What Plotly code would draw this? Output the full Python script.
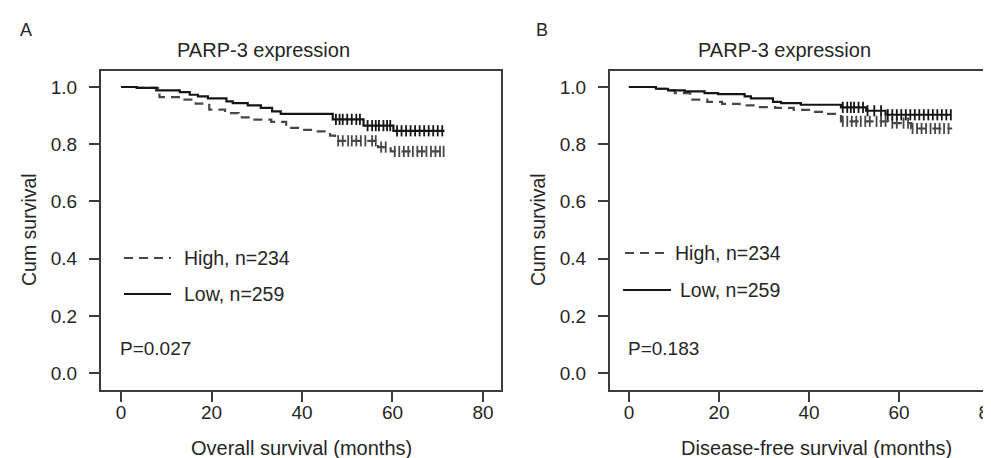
import plotly.graph_objects as go

W, H = 991, 458

# ---------------- data ----------------
# Panel A: overall survival
os_low_t = [0, 3.5, 7.8, 13, 15.2, 17, 19.2, 23.3, 24.7, 28, 30.9, 33.4, 35.3, 46.8, 53.6, 60.2, 71.5]
os_low_s = [1.0, 0.997, 0.988, 0.982, 0.973, 0.967, 0.96, 0.95, 0.944, 0.936, 0.927, 0.915, 0.906, 0.887, 0.865, 0.847, 0.847]
os_high_t = [0, 3.5, 8.5, 13.4, 16.5, 19.5, 23, 26, 29.5, 33.2, 36.5, 39.5, 43.5, 46.2, 47.3, 56.8, 59.6, 71.5]
os_high_s = [1.0, 0.997, 0.965, 0.956, 0.942, 0.921, 0.909, 0.894, 0.886, 0.878, 0.857, 0.85, 0.845, 0.83, 0.812, 0.79, 0.775, 0.775]
os_low_cens = [47.5, 48.3, 49, 50, 51, 52, 52.8, 54.5, 55.5, 56.3, 57, 58, 58.8, 59.5, 61, 62, 63, 64, 65, 66, 67, 68, 69, 70, 71]
os_high_cens = [48, 49, 50.2, 51, 52, 53, 54, 55.5, 56.3, 57.5, 58.5, 60.5, 61.5, 62.5, 63.5, 64.5, 65.5, 66.5, 67.5, 68.5, 69.5, 70.5, 71.3]

# Panel B: disease-free survival
dfs_low_t = [0, 6, 8.7, 12.4, 16.8, 19.8, 25.7, 27.1, 32, 33.8, 38.2, 47.1, 52.7, 57, 71.6]
dfs_low_s = [1.0, 0.994, 0.988, 0.985, 0.979, 0.975, 0.967, 0.96, 0.948, 0.944, 0.938, 0.929, 0.917, 0.903, 0.903]
dfs_high_t = [0, 6, 8.7, 10.2, 13.6, 17.4, 20.7, 24.6, 28.8, 32.5, 36.6, 40.7, 44, 47.1, 57.6, 62.7, 71.8]
dfs_high_s = [1.0, 0.994, 0.988, 0.979, 0.956, 0.948, 0.941, 0.936, 0.93, 0.927, 0.92, 0.913, 0.906, 0.88, 0.874, 0.855, 0.855]
dfs_low_cens = [47.5, 48.5, 49.3, 50, 51, 52, 53, 54.5, 56, 57.5, 58.5, 59.5, 60.5, 61.5, 62.5, 63.5, 64.5, 65.5, 66.5, 67.5, 68.5, 69.5, 70.5, 71.5]
dfs_high_cens = [47.5, 48.5, 49.5, 50.5, 51.5, 52.5, 53.5, 55, 56, 57, 58.5, 59.5, 61, 62, 63, 64, 65, 66, 67, 68, 69, 70, 71]

x_ticks = [0, 20, 40, 60, 80]
y_ticks = [0.0, 0.2, 0.4, 0.6, 0.8, 1.0]
group_labels = ["High, n=234", "Low, n=259"]
p_values = ["P=0.027", "P=0.183"]
x_titles = ["Overall survival (months)", "Disease-free survival (months)"]
panel_letters = ["A", "B"]
title_text = "PARP-3 expression"

FONT = "Liberation Sans, Arial, sans-serif"
TXT = "#262626"
AX = "#3c3c3c"
SOLID_C = "#151515"
DASH_C = "#474747"


def step_value(ts, ss, t):
    v = ss[0]
    for ti, si in zip(ts, ss):
        if ti <= t:
            v = si
    return v


fig = go.Figure()


def add_panel(xa, ya, lt, ls, ht, hs, lc, hc):
    fig.add_trace(go.Scatter(x=ht, y=hs, mode="lines", line=dict(color=DASH_C, width=2.2, dash="9px,6px", shape="hv"),
                             xaxis=xa, yaxis=ya, showlegend=False, hoverinfo="skip"))
    fig.add_trace(go.Scatter(x=lt, y=ls, mode="lines", line=dict(color=SOLID_C, width=2.2, shape="hv"),
                             xaxis=xa, yaxis=ya, showlegend=False, hoverinfo="skip"))
    fig.add_trace(go.Scatter(x=hc, y=[step_value(ht, hs, t) for t in hc], mode="markers",
                             marker=dict(symbol="line-ns-open", size=8, color=DASH_C,
                                         line=dict(color=DASH_C, width=1.8)),
                             xaxis=xa, yaxis=ya, showlegend=False, hoverinfo="skip"))
    fig.add_trace(go.Scatter(x=lc, y=[step_value(lt, ls, t) for t in lc], mode="markers",
                             marker=dict(symbol="line-ns-open", size=8, color=SOLID_C,
                                         line=dict(color=SOLID_C, width=1.8)),
                             xaxis=xa, yaxis=ya, showlegend=False, hoverinfo="skip"))


add_panel("x", "y", os_low_t, os_low_s, os_high_t, os_high_s, os_low_cens, os_high_cens)
add_panel("x2", "y2", dfs_low_t, dfs_low_s, dfs_high_t, dfs_high_s, dfs_low_cens, dfs_high_cens)

ydom = [1 - 382 / H, 1 - 63 / H]
common_x = dict(tickvals=x_ticks, ticks="outside", ticklen=10, tickwidth=2, tickcolor=AX,
                showline=True, linewidth=2, linecolor=AX, showgrid=False, zeroline=False,
                tickfont=dict(family=FONT, size=19, color=TXT), ticklabelstandoff=-6,
                ticklabeloverflow="allow", fixedrange=True)
common_y = dict(tickvals=y_ticks, tickformat=".1f", ticks="outside", ticklen=10, tickwidth=2, tickcolor=AX,
                showline=True, linewidth=2, linecolor=AX, showgrid=False, zeroline=False,
                tickfont=dict(family=FONT, size=19, color=TXT), ticklabelstandoff=8,
                range=[-0.059, 1.056], domain=ydom, fixedrange=True)

fig.update_layout(
    width=W, height=H, margin=dict(l=0, r=0, t=0, b=0),
    paper_bgcolor="white", plot_bgcolor="white",
    xaxis=dict(domain=[93 / W, 493 / W], range=[-4.42, 83.98], anchor="y", mirror=True, **common_x),
    yaxis=dict(anchor="x", mirror=True, **common_y),
    xaxis2=dict(domain=[602 / W, 1.0], range=[-4.2, 82.2], anchor="y2", mirror=True, **common_x),
    yaxis2=dict(anchor="x2", mirror=False, **common_y),
)


def ann(text, px, py, size=19, xanchor="center", angle=0):
    fig.add_annotation(text=text, x=px / W, y=1 - py / H, xref="paper", yref="paper",
                       xanchor=xanchor, yanchor="middle", showarrow=False, textangle=angle,
                       font=dict(family=FONT, size=size, color=TXT))


def seg(x0, x1, py, color, dash):
    fig.add_shape(type="line", x0=x0 / W, x1=x1 / W, y0=1 - py / H, y1=1 - py / H,
                  xref="paper", yref="paper", line=dict(color=color, width=2, dash=dash))


# panel letters and titles
ann(panel_letters[0], 18, 22, size=18)
ann(panel_letters[1], 534, 22, size=18)
ann(title_text, 255, 42, size=20)
ann(title_text, 776, 42, size=20)
# axis titles
ann(x_titles[0], 293, 440, size=20)
ann(x_titles[1], 808, 440, size=20)
ann("Cum survival", 21, 222, size=19.5, angle=-90)
ann("Cum survival", 530, 222, size=19.5, angle=-90)
# legends
seg(116, 163, 250, DASH_C, "9px,6px")
seg(116, 163, 286, SOLID_C, "solid")
ann(group_labels[0], 174, 250, size=19.5, xanchor="left")
ann(group_labels[1], 174, 286, size=19.5, xanchor="left")
seg(617, 660, 245, DASH_C, "9px,6px")
seg(615, 663, 282, SOLID_C, "solid")
ann(group_labels[0], 665, 245, size=19.5, xanchor="left")
ann(group_labels[1], 670, 282, size=19.5, xanchor="left")
# p values
ann(p_values[0], 110, 340, xanchor="left")
ann(p_values[1], 618, 340, xanchor="left")

fig.write_html("out.html")
